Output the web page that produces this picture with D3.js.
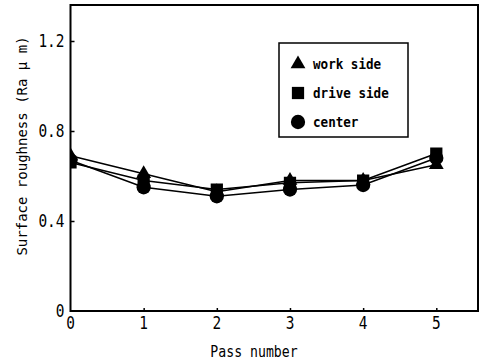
<!DOCTYPE html>
<html><head><meta charset="utf-8">
<script src="https://cdn.jsdelivr.net/npm/d3@7"></script>
<style>body{margin:0;background:#fff}svg{display:block}text{font-family:"DejaVu Sans Mono","Liberation Mono",monospace;fill:#000}</style>
</head><body><svg id="c" width="484" height="364"></svg>
<script>
const passes = [0, 1, 2, 3, 4, 5];
const workSide = [0.69, 0.61, 0.53, 0.58, 0.58, 0.65];
const driveSide = [0.66, 0.58, 0.54, 0.57, 0.58, 0.70];
const center = [0.67, 0.55, 0.51, 0.54, 0.56, 0.68];
const yTicks = [0, 0.4, 0.8, 1.2];
const yTickLabels = ["0", "0.4", "0.8", "1.2"];
const xTicks = [0, 1, 2, 3, 4, 5];
const seriesNames = ["work side", "drive side", "center"];

const svg = d3.select("#c");
const L = 70.5, R = 478, T = 5, B = 311;
const x = d3.scaleLinear().domain([0, 5.57]).range([L, R]);
const y = d3.scaleLinear().domain([0, 1.36]).range([B, T]);

svg.append("defs").append("clipPath").attr("id","clip")
  .append("rect").attr("x",L).attr("y",T).attr("width",R-L).attr("height",B-T);

svg.append("rect").attr("x",L).attr("y",T).attr("width",R-L).attr("height",B-T)
  .attr("fill","none").attr("stroke","#000").attr("stroke-width",2);

const yAxis = d3.axisRight(y).tickValues(yTicks.filter(v=>v>0)).tickSize(4).tickFormat("");
svg.append("g").attr("transform",`translate(${L},0)`).call(yAxis)
  .call(g=>g.select(".domain").remove())
  .selectAll("line").attr("stroke","#000").attr("stroke-width",1.5);
svg.append("g").selectAll("text").data(yTicks).join("text")
  .attr("transform", d=>`translate(${L-6},${y(d)+6}) scale(0.85,1)`).attr("text-anchor","end")
  .attr("font-size",17).text((d,i)=>yTickLabels[i]);

const xAxis = d3.axisTop(x).tickValues(xTicks.filter(v=>v>0)).tickSize(3).tickFormat("");
svg.append("g").attr("transform",`translate(0,${B})`).call(xAxis)
  .call(g=>g.select(".domain").remove())
  .selectAll("line").attr("stroke","#000").attr("stroke-width",1.5);
svg.append("g").selectAll("text").data(xTicks).join("text")
  .attr("transform", d=>`translate(${x(d)},329) scale(0.85,1)`).attr("text-anchor","middle")
  .attr("font-size",17).text(d=>d);

svg.append("text").attr("transform","translate(254,357) scale(0.88,1)").attr("text-anchor","middle")
  .attr("font-size",15).text("Pass number");
svg.append("text").attr("transform","translate(27,146) rotate(-90)").attr("text-anchor","middle")
  .attr("font-size",14).text("Surface roughness (Ra μ m)");

const series = [
  {name: seriesNames[0], vals: workSide, sym: d3.symbolTriangle, size: 95},
  {name: seriesNames[1], vals: driveSide, sym: d3.symbolSquare, size: 150},
  {name: seriesNames[2], vals: center, sym: d3.symbolCircle, size: 160}
];
const plot = svg.append("g").attr("clip-path","url(#clip)");
const line = d3.line().x((d,i)=>x(passes[i])).y(d=>y(d));
series.forEach(s=>{
  plot.append("path").attr("d", line(s.vals)).attr("fill","none")
    .attr("stroke","#000").attr("stroke-width",1.6);
});
series.forEach(s=>{
  plot.selectAll(null).data(s.vals).join("path")
    .attr("transform",(d,i)=>`translate(${x(passes[i])},${y(d)})`)
    .attr("d", d3.symbol(s.sym, s.size)()).attr("fill","#000");
});

const lg = svg.append("g");
lg.append("rect").attr("x",279).attr("y",43).attr("width",129).attr("height",94)
  .attr("fill","#fff").attr("stroke","#000").attr("stroke-width",1.5);
const ly = [64, 93, 122];
series.forEach((s,i)=>{
  lg.append("path").attr("transform",`translate(298,${ly[i]})`)
    .attr("d", d3.symbol(s.sym, s.size)()).attr("fill","#000");
  lg.append("text").attr("transform",`translate(313,${ly[i]+5}) scale(0.9,1)`)
    .attr("font-size",14).attr("font-weight","bold").text(s.name);
});
</script></body></html>
